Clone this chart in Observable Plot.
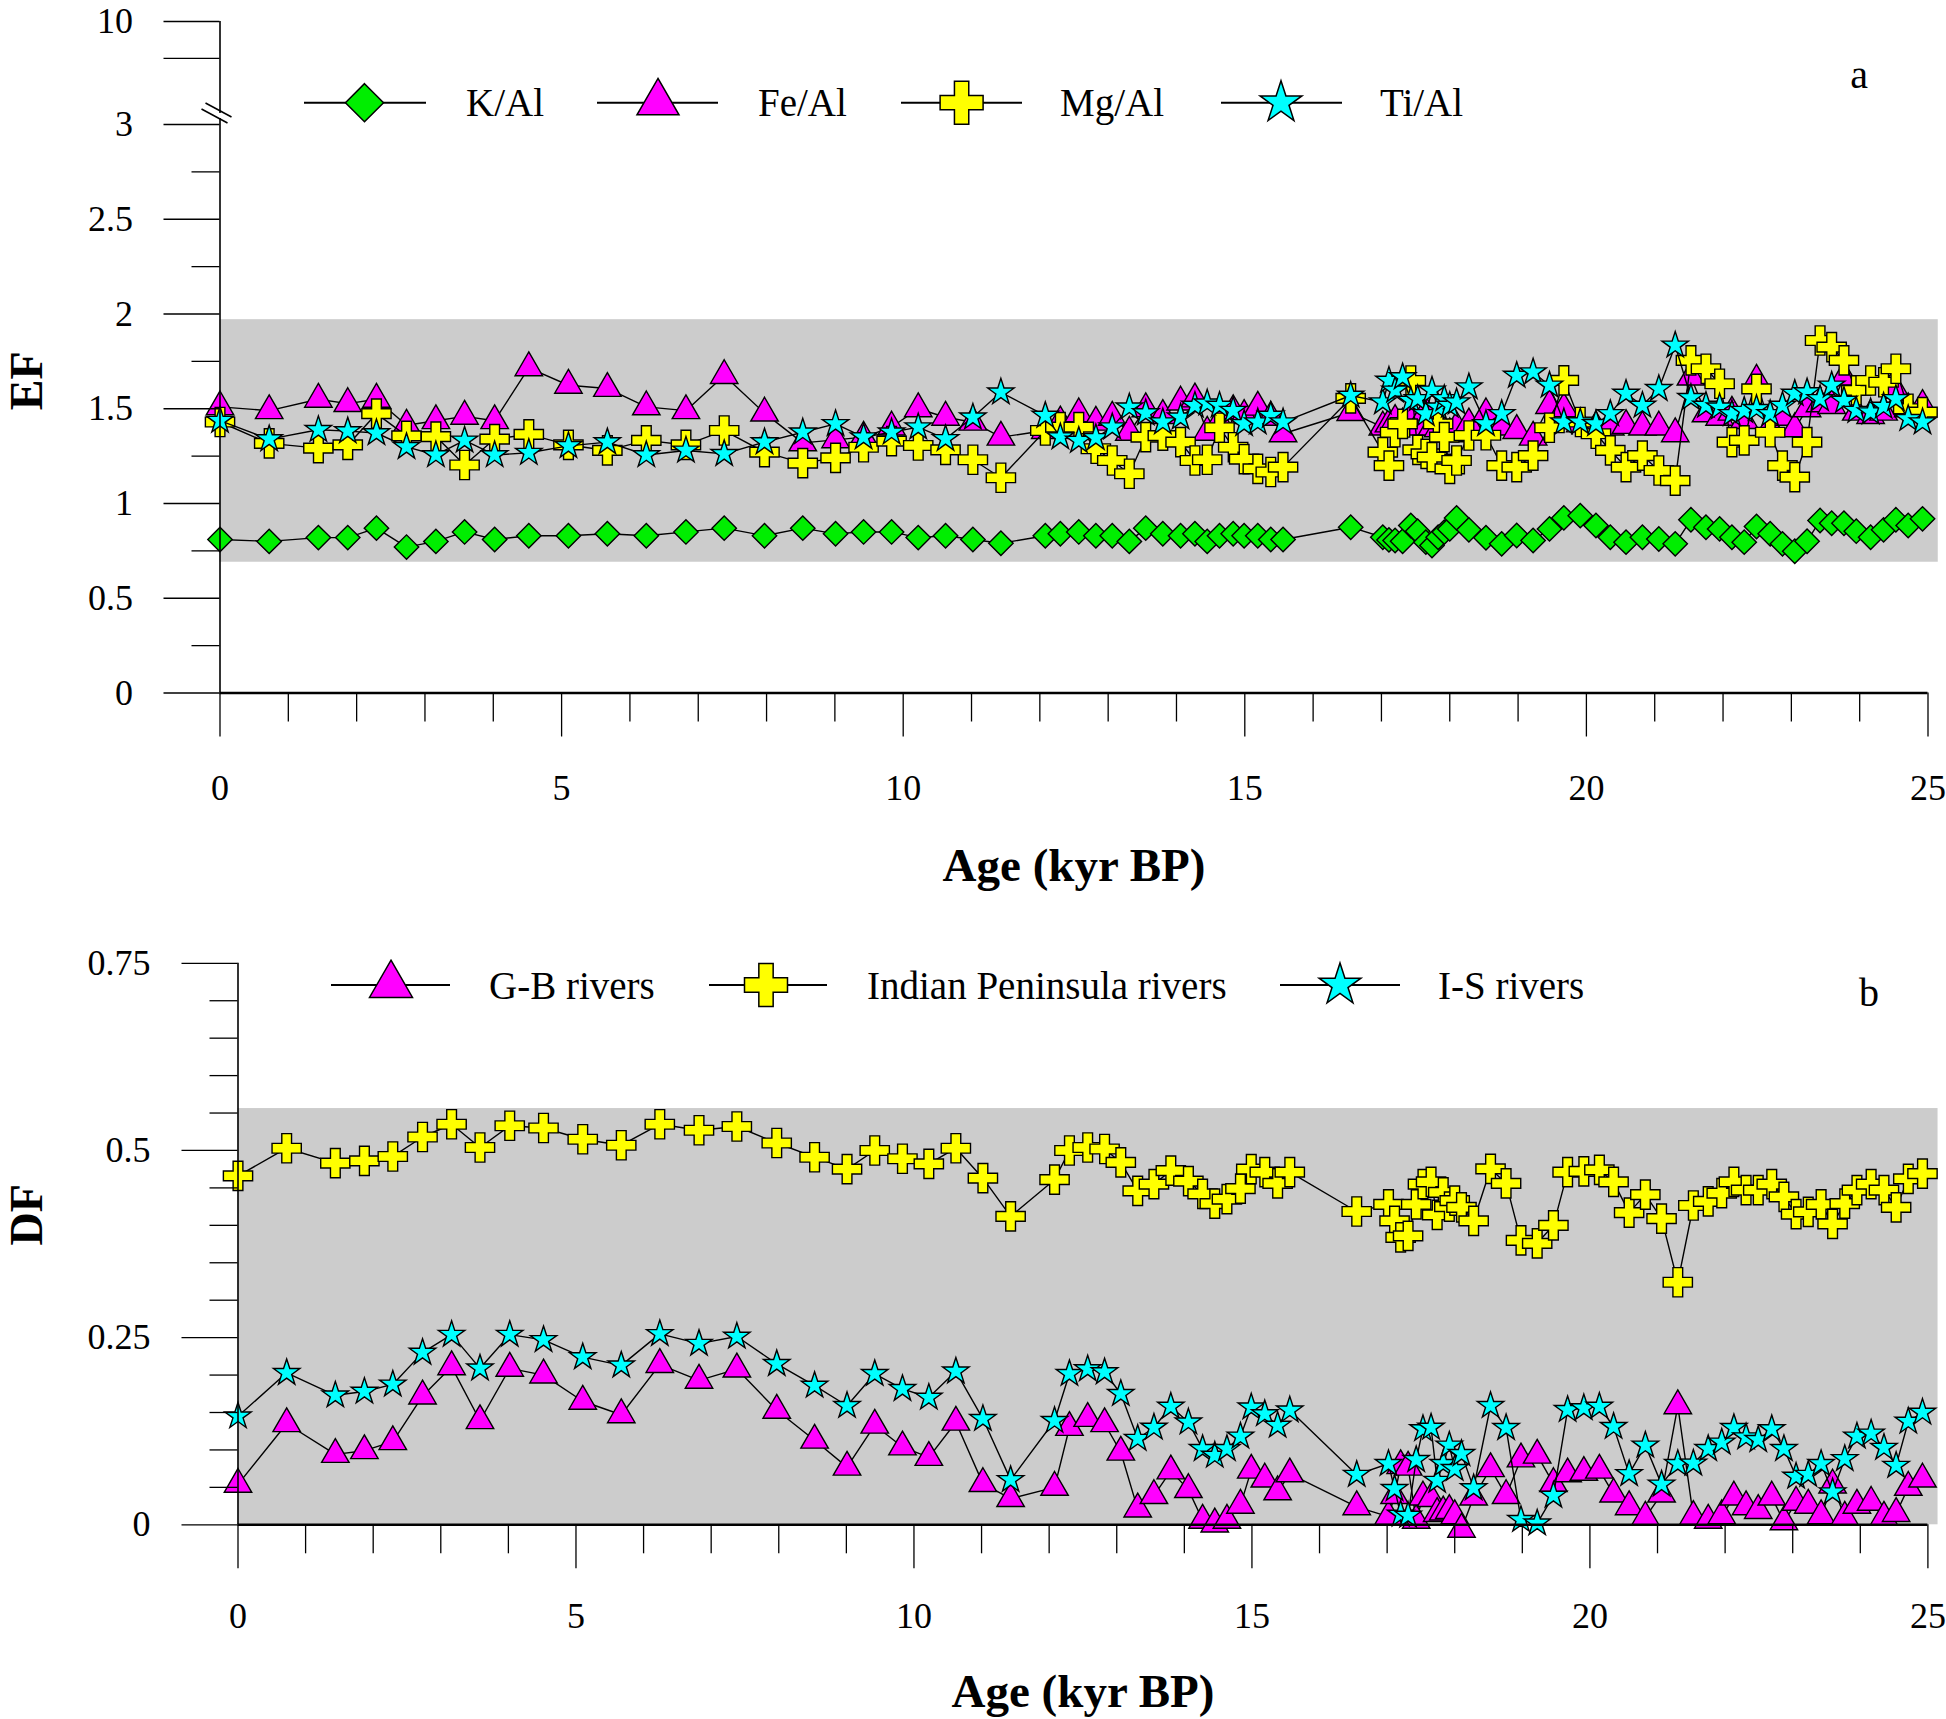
<!DOCTYPE html>
<html><head><meta charset="utf-8">
<script src="https://cdn.jsdelivr.net/npm/d3@7"></script>
<script src="https://cdn.jsdelivr.net/npm/@observablehq/plot@0.6"></script>
<style>
body{margin:0;background:#fff;}
#wrap{position:relative;width:1946px;height:1719px;background:#fff;overflow:hidden;}
#wrap svg{position:absolute;left:0;}
</style></head><body><div id="wrap"></div>
<script>
// ---------- data ----------
const ages = [0,0.72,1.44,1.87,2.29,2.73,3.16,3.58,4.02,4.52,5.10,5.67,6.24,6.82,
  7.38,7.97,8.53,9.01,9.42,9.83,10.22,10.62,11.02,11.43,
  12.08,12.30,12.57,12.82,13.06,13.31,13.55,13.80,14.06,14.27,14.45,14.63,14.83,14.99,15.19,15.38,15.56,
  16.55,
  17.02,17.11,17.20,17.31,17.43,17.53,17.65,17.74,17.83,17.92,18.00,18.10,
  18.28,18.53,18.76,18.98,19.22,19.46,19.67,19.91,20.14,20.35,20.58,20.82,21.06,21.30,21.53,21.75,21.95,
  22.13,22.31,22.49,22.69,22.87,23.05,23.23,23.42,23.59,23.77,23.95,24.16,24.35,24.53,24.71,24.92];

const kAl = [0.81,0.80,0.82,0.82,0.87,0.77,0.80,0.85,0.81,0.83,0.83,0.84,0.83,0.85,
  0.87,0.83,0.87,0.84,0.85,0.85,0.82,0.83,0.81,0.79,
  0.83,0.84,0.85,0.83,0.83,0.80,0.87,0.84,0.83,0.84,0.80,0.83,0.84,0.83,0.83,0.81,0.81,
  0.875,
  0.822,0.808,0.805,0.801,0.884,0.854,0.796,0.778,0.822,0.849,0.866,0.924,
  0.861,0.819,0.787,0.831,0.805,0.866,0.924,0.936,0.884,0.822,0.796,0.822,0.813,0.787,0.914,0.875,0.866,
  0.822,0.796,0.879,0.840,0.787,0.748,0.801,0.910,0.896,0.896,0.854,0.822,0.861,0.914,0.884,0.919];

const feAl = [1.51,1.49,1.55,1.527,1.55,1.413,1.437,1.46,1.437,1.716,1.624,1.607,1.51,1.49,
  1.675,1.477,1.32,1.336,1.35,1.403,1.50,1.455,1.429,1.35,
  1.385,1.43,1.473,1.429,1.455,1.376,1.50,1.464,1.535,1.552,1.376,1.433,1.49,1.464,1.508,1.455,1.368,
  1.48,
  1.403,1.42,1.438,1.42,1.452,1.403,1.482,1.403,1.394,1.376,1.368,1.403,
  1.42,1.473,1.403,1.385,1.35,1.517,1.50,1.42,1.403,1.403,1.412,1.403,1.403,1.368,1.667,1.473,1.455,
  1.482,1.438,1.65,1.403,1.455,1.394,1.50,1.526,1.517,1.667,1.482,1.464,1.482,1.597,1.50,1.517];

const mgAl = [1.43,1.317,1.292,1.309,1.474,1.357,1.353,1.203,1.34,1.365,1.309,1.28,1.333,1.309,
  1.385,1.271,1.213,1.241,1.297,1.329,1.306,1.283,1.231,1.136,
  1.385,1.403,1.403,1.289,1.227,1.157,1.35,1.358,1.324,1.227,1.231,1.40,1.297,1.234,1.183,1.166,1.192,
  1.555,
  1.271,1.20,1.376,1.42,1.649,1.283,1.262,1.245,1.42,1.35,1.183,1.227,
  1.359,1.36,1.20,1.192,1.253,1.40,1.65,1.43,1.368,1.28,1.192,1.253,1.174,1.121,1.755,1.711,1.632,
  1.324,1.333,1.605,1.376,1.20,1.139,1.324,1.86,1.825,1.755,1.597,1.649,1.64,1.711,1.50,1.482];

const tiAl = [1.437,1.34,1.389,1.382,1.372,1.299,1.256,1.333,1.256,1.268,1.304,1.324,1.256,1.28,
  1.262,1.324,1.376,1.42,1.35,1.376,1.403,1.341,1.455,1.587,
  1.464,1.35,1.332,1.346,1.403,1.508,1.477,1.429,1.455,1.517,1.529,1.517,1.49,1.42,1.429,1.464,1.429,
  1.57,
  1.535,1.649,1.597,1.667,1.543,1.552,1.473,1.597,1.508,1.552,1.517,1.535,
  1.614,1.42,1.473,1.675,1.693,1.623,1.429,1.429,1.42,1.473,1.58,1.517,1.605,1.834,1.558,1.517,1.508,
  1.473,1.49,1.50,1.473,1.517,1.58,1.588,1.552,1.623,1.543,1.49,1.482,1.512,1.552,1.447,1.429];

const gbRivers = [0.054,0.135,0.094,0.099,0.111,0.172,0.211,0.139,0.209,0.200,0.165,0.147,0.214,0.193,
  0.208,0.153,0.113,0.077,0.133,0.104,0.090,0.137,0.055,0.035,
  0.050,0.130,0.142,0.135,0.097,0.021,0.039,0.072,0.047,0.006,0.001,0.006,0.026,0.073,0.061,0.044,0.068,
  0.024,
  0.011,0.039,0.079,0.077,0.006,0.037,0.035,0.015,0.017,0.019,0.012,-0.006,
  0.037,0.075,0.039,0.088,0.093,0.055,0.068,0.070,0.073,0.041,0.024,0.010,0.041,0.159,0.011,0.006,0.012,
  0.037,0.024,0.019,0.037,0.004,0.030,0.026,0.012,0.053,0.010,0.026,0.030,0.010,0.015,0.050,0.061];

const ipRivers = [0.466,0.503,0.483,0.486,0.492,0.518,0.535,0.504,0.533,0.530,0.515,0.507,0.535,0.527,
  0.532,0.510,0.491,0.475,0.500,0.489,0.482,0.503,0.463,0.412,
  0.461,0.500,0.504,0.502,0.484,0.446,0.455,0.473,0.459,0.442,0.429,0.435,0.449,0.475,0.471,0.456,0.471,
  0.4185,
  0.428,0.406,0.384,0.386,0.428,0.455,0.458,0.414,0.444,0.425,0.433,0.424,
  0.406,0.4755,0.456,0.380,0.376,0.400,0.471,0.472,0.474,0.458,0.417,0.441,0.409,0.324,0.4265,0.432,0.443,
  0.458,0.447,0.447,0.455,0.438,0.415,0.418,0.428,0.402,0.429,0.447,0.455,0.447,0.424,0.462,0.469];

const isRivers = [0.145,0.203,0.173,0.178,0.1875,0.230,0.254,0.209,0.254,0.247,0.224,0.213,0.255,0.242,
  0.2515,0.215,0.186,0.159,0.2017,0.1816,0.170,0.205,0.1416,0.060,
  0.139,0.2017,0.208,0.204,0.175,0.115,0.130,0.158,0.137,0.1015,0.0926,0.1015,0.118,0.157,0.148,0.1326,0.153,
  0.067,
  0.0815,0.048,0.0138,0.0124,0.0868,0.128,0.130,0.059,0.0815,0.106,0.0748,0.0948,
  0.049,0.159,0.1295,0.0067,0.002,0.039,0.1536,0.156,0.158,0.131,0.068,0.106,0.054,0.0815,0.082,0.1015,0.110,
  0.1295,0.117,0.1135,0.128,0.1015,0.0645,0.067,0.0815,0.0436,0.088,0.118,0.122,0.103,0.079,0.138,0.150];

// background ranges (gray bands)
const bandA = {x1: 0, x2: 25.15, y1: 0.69, y2: 1.97};
const bandB = {x1: 0, x2: 25.15, y1: 0, y2: 0.556};

// ticks
const xMajor = [0,5,10,15,20,25];
const xMinor = d3.range(0,26).filter(d => d % 5 !== 0);
const yMajorA = [0,0.5,1,1.5,2,2.5,3,7.5,10];
const yMinorA = [0.25,0.75,1.25,1.75,2.25,2.75];
const yMajorB = [0,0.25,0.5,0.75];
const yMinorB = d3.range(1,15).map(i => +(i*0.05).toFixed(2)).filter(d => Math.abs(d - 0.25) > 1e-9 && Math.abs(d - 0.5) > 1e-9);

// ---------- styling ----------
const FONT = "'Liberation Serif','Times New Roman',serif";
const colors = {green: "#00ee00", magenta: "#ff00ff", yellow: "#ffff00", cyan: "#00ffff", band: "#cccccc"};

const seriesA = [
  {name: "K/Al", values: kAl, symbol: "diamond2", d3sym: d3.symbolDiamond2, fill: colors.green, r: 11, lsize: 924},
  {name: "Fe/Al", values: feAl, symbol: "triangle", d3sym: d3.symbolTriangle, fill: colors.magenta, r: 10.2, lsize: 764},
  {name: "Mg/Al", values: mgAl, symbol: "cross", d3sym: d3.symbolCross, fill: colors.yellow, r: 12.3, lsize: 1027},
  {name: "Ti/Al", values: tiAl, symbol: "star", d3sym: d3.symbolStar, fill: colors.cyan, r: 8.3, lsize: 543}
];
const seriesB = [
  {name: "G-B rivers", values: gbRivers, symbol: "triangle", d3sym: d3.symbolTriangle, fill: colors.magenta, r: 10.2, lsize: 800},
  {name: "Indian Peninsula rivers", values: ipRivers, symbol: "cross", d3sym: d3.symbolCross, fill: colors.yellow, r: 12.3, lsize: 1027},
  {name: "I-S rivers", values: isRivers, symbol: "star", d3sym: d3.symbolStar, fill: colors.cyan, r: 8.3, lsize: 543}
];

function seriesMarks(series) {
  const marks = [];
  for (const s of series) {
    const rows = ages.map((age, i) => ({age, v: s.values[i]}));
    marks.push(Plot.line(rows, {x: "age", y: "v", stroke: "black", strokeWidth: 1.4}));
    marks.push(Plot.dot(rows, {x: "age", y: "v", symbol: s.symbol, r: s.r, fill: s.fill, stroke: "black", strokeWidth: 1.4}));
  }
  return marks;
}

function xAxisMarks(pad) {
  return [
    Plot.ruleY([0], {stroke: "black", strokeWidth: 2.5}),
    Plot.axisX(xMinor, {anchor: "bottom", tickSize: 29, tickFormat: () => "", strokeWidth: 1.3, label: null}),
    Plot.axisX(xMajor, {anchor: "bottom", tickSize: 44, tickPadding: pad, tickFormat: d => String(d), fontSize: 36, strokeWidth: 1.3, label: null})
  ];
}

function addLegend(svg, series, y, layout) {
  const g = d3.select(svg).append("g").attr("class", "legend");
  series.forEach((s, i) => {
    const L = layout[i];
    g.append("line").attr("x1", L.x1).attr("x2", L.x2).attr("y1", y).attr("y2", y)
      .attr("stroke", "black").attr("stroke-width", 2);
    g.append("path").attr("d", d3.symbol(s.d3sym, s.lsize)())
      .attr("transform", `translate(${L.cx},${y})`)
      .attr("fill", s.fill).attr("stroke", "black").attr("stroke-width", 1.5);
    g.append("text").attr("x", L.tx).attr("y", y).attr("dominant-baseline", "central")
      .attr("text-anchor", "start")
      .attr("font-family", FONT).attr("font-size", 39).attr("fill", "black").text(s.name);
  });
}

const wrap = document.getElementById("wrap");

// ---------- panel a ----------
const HA = 900;
const plotA = Plot.plot({
  width: 1946, height: HA,
  marginLeft: 219.5, marginRight: 18.5, marginTop: 21, marginBottom: HA - 692.5,
  style: {fontFamily: FONT, fontSize: "36px", color: "black", background: "white", overflow: "visible"},
  x: {domain: [0, 25]},
  y: {type: "linear", domain: [0, 3, 10], range: [692.5, 124, 21]},
  marks: [
    Plot.rect([bandA], {x1: "x1", x2: "x2", y1: "y1", y2: "y2", fill: colors.band}),
    ...seriesMarks(seriesA),
    Plot.ruleX([0], {y1: 0, y2: 10, stroke: "black", strokeWidth: 1.6}),
    Plot.axisY(yMinorA, {anchor: "left", tickSize: 28, tickFormat: () => "", strokeWidth: 1.3, label: null}),
    Plot.axisY(yMajorA, {anchor: "left", tickSize: 56, tickPadding: 31, tickFormat: d => d === 7.5 ? "" : String(d), fontSize: 36, strokeWidth: 1.3, label: null}),
    ...xAxisMarks(37.5),
    Plot.text(["Age (kyr BP)"], {frameAnchor: "bottom", dy: 172.5, fontSize: 47, fontWeight: "bold", lineAnchor: "middle"}),
    Plot.text(["EF"], {frameAnchor: "left", dx: -193, dy: 53, rotate: -90, fontSize: 46, fontWeight: "bold", lineAnchor: "middle"}),
    Plot.text(["a"], {frameAnchor: "top-right", dx: -60, dy: 53.5, fontSize: 40, lineAnchor: "middle"})
  ]
});
plotA.style.top = "0px";
wrap.append(plotA);

// axis break marks near y = 3 (positions derived from the scales)
{
  const x0 = plotA.scale("x").apply(0), y3 = plotA.scale("y").apply(3);
  const g = d3.select(plotA).append("g");
  g.append("rect").attr("x", x0 - 2).attr("y", y3 - 11).attr("width", 4).attr("height", 5).attr("fill", "white");
  g.append("line").attr("x1", x0 - 18).attr("y1", y3 - 15).attr("x2", x0 + 8).attr("y2", y3 - 1).attr("stroke", "black").attr("stroke-width", 1.5);
  g.append("line").attr("x1", x0 - 14).attr("y1", y3 - 21).attr("x2", x0 + 12).attr("y2", y3 - 7).attr("stroke", "black").attr("stroke-width", 1.5);
}
addLegend(plotA, seriesA, 102.7, [
  {x1: 304, x2: 426, cx: 364.5, tx: 466},
  {x1: 597, x2: 718, cx: 658, tx: 758},
  {x1: 901, x2: 1022, cx: 961.6, tx: 1060},
  {x1: 1221, x2: 1342, cx: 1281, tx: 1380}
]);

// ---------- panel b ----------
const TOPB = 900, HB = 819;
const plotB = Plot.plot({
  width: 1946, height: HB,
  marginLeft: 237.5, marginRight: 18.6, marginTop: 962.8 - TOPB, marginBottom: HB - (1524.3 - TOPB),
  style: {fontFamily: FONT, fontSize: "36px", color: "black", background: "white", overflow: "visible"},
  x: {domain: [0, 25]},
  y: {domain: [0, 0.75]},
  marks: [
    Plot.rect([bandB], {x1: "x1", x2: "x2", y1: "y1", y2: "y2", fill: colors.band}),
    ...seriesMarks(seriesB),
    Plot.ruleX([0], {stroke: "black", strokeWidth: 1.6}),
    Plot.axisY(yMinorB, {anchor: "left", tickSize: 28, tickFormat: () => "", strokeWidth: 1.3, label: null}),
    Plot.axisY(yMajorB, {anchor: "left", tickSize: 56, tickPadding: 31.5, tickFormat: d => String(d), fontSize: 36, strokeWidth: 1.3, label: null}),
    ...xAxisMarks(34),
    Plot.text(["Age (kyr BP)"], {frameAnchor: "bottom", dy: 167, fontSize: 47, fontWeight: "bold", lineAnchor: "middle"}),
    Plot.text(["DF"], {frameAnchor: "left", dx: -211, dy: 1.5, rotate: -90, fontSize: 46, fontWeight: "bold", lineAnchor: "middle"}),
    Plot.text(["b"], {frameAnchor: "top-right", dx: -49, dy: 30, fontSize: 40, lineAnchor: "middle"})
  ]
});
plotB.style.top = TOPB + "px";
wrap.append(plotB);
addLegend(plotB, seriesB, 985 - TOPB, [
  {x1: 331, x2: 450, cx: 391, tx: 489},
  {x1: 709, x2: 827, cx: 766, tx: 867},
  {x1: 1280, x2: 1400, cx: 1340, tx: 1438}
]);
</script></body></html>
